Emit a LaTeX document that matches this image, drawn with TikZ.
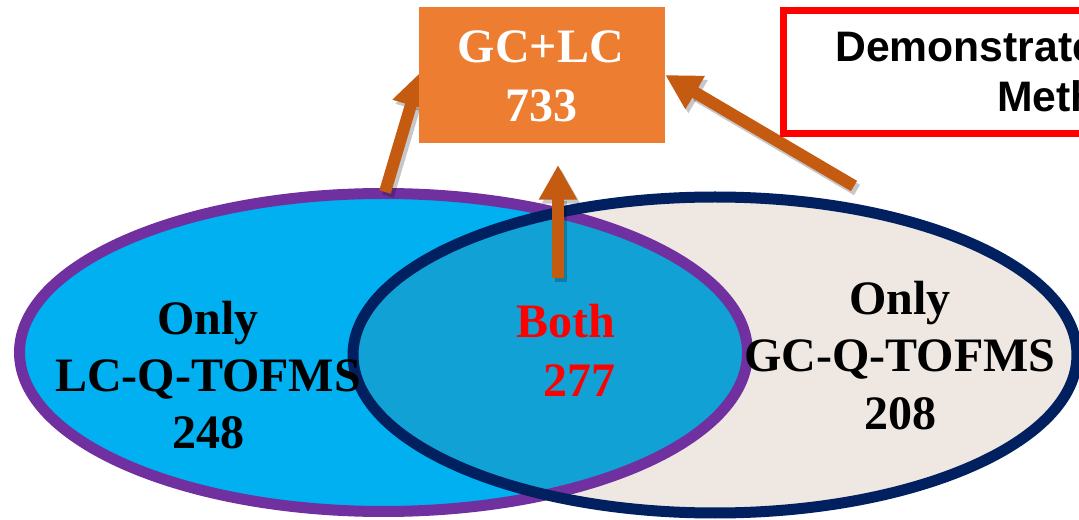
\documentclass[tikz,border=0pt]{standalone}
\usepackage{fontspec}
\setmainfont{Liberation Serif}
\setsansfont{Liberation Sans}
\usetikzlibrary{arrows.meta,calc}
\definecolor{lcfill}{HTML}{00B0F0}
\definecolor{lcedge}{HTML}{7030A0}
\definecolor{gcfill}{HTML}{EFE7E1}
\definecolor{gcedge}{HTML}{002060}
\definecolor{bothfill}{HTML}{12A1D5}
\definecolor{boxor}{HTML}{ED7D31}
\definecolor{arrcol}{HTML}{C55A11}
\definecolor{notered}{HTML}{FF0000}
\pgfdeclarelayer{bg}
\pgfdeclarelayer{mid}
\pgfsetlayers{bg,mid,main}
\begin{document}
\begin{tikzpicture}[x=0.75pt,y=-0.75pt,
  lbl/.style={font=\fontsize{36}{44}\selectfont\bfseries, inner sep=0pt, anchor=base},
  notetext/.style={font=\sffamily\fontsize{32}{38}\selectfont\bfseries, inner sep=0pt, anchor=base west},
  bigarrow/.style={draw=arrcol, line width=9pt, -{Triangle[width=27pt,length=26pt]}},
  arrowshadow/.style={draw=black, opacity=0.22, line width=9pt, -{Triangle[width=27pt,length=26pt]}},
  edge/.style={line width=8.25pt},
]
\useasboundingbox (0,0) rectangle (1079,520);
\clip (0,0) rectangle (1079,520);

% boxes (main layer)
\node[fill=boxor, minimum width=184.5pt, minimum height=102pt, inner sep=0pt] (sum) at (542,75) {};
\node[lbl, text=white] (sum1) at (541,63) {GC+LC};
\node[lbl, text=white] (sum2) at (541,122) {733};

\node[draw=notered, line width=5.25pt, minimum width=320pt, minimum height=92.25pt, anchor=north west, inner sep=0pt] (demo) at (780,7) {};
\node[notetext] (demo1) at (835,62) {Demonstrate};
\node[notetext] (demo2) at (997,112) {Meth};

% Venn ellipses
\begin{pgfonlayer}{bg}
\fill[gcfill] (715,355) ellipse [x radius=362, y radius=158];
\fill[lcfill] (383.5,352.5) ellipse [x radius=364, y radius=159];
\begin{scope}
\clip (715,355) ellipse [x radius=362, y radius=158];
\fill[bothfill] (383.5,352.5) ellipse [x radius=364, y radius=159];
\end{scope}
\draw[lcedge, edge] (383.5,352.5) ellipse [x radius=364, y radius=159];
\draw[gcedge, edge] (715,355) ellipse [x radius=362, y radius=158];
\coordinate (lctop) at (385,192);
\coordinate (bothtail) at (558,278);
\coordinate (bothtip) at (558,165);
\coordinate (gctail) at (854,186);
\end{pgfonlayer}

% arrows
\begin{pgfonlayer}{mid}
\draw[arrowshadow] ($(lctop)+(3,4)$) -- ($(sum.west)+(5,1)$);
\draw[arrowshadow] ($(bothtail)+(3,4)$) -- ($(bothtip)+(3,4)$);
\draw[arrowshadow] ($(gctail)+(3,4)$) -- ($(sum.east)+(3,4)$);
\draw[bigarrow] (lctop) -- ($(sum.west)+(2,-3)$);
\draw[bigarrow] (bothtail) -- (bothtip);
\draw[bigarrow] (gctail) -- (sum.east);
\end{pgfonlayer}

% labels
\node[lbl] (lc1) at (208,335) {Only};
\node[lbl] (lc2) at (208,392) {LC-Q-TOFMS};
\node[lbl] (lc3) at (208,449) {248};
\node[lbl] (gc1) at (900,315) {Only};
\node[lbl] (gc2) at (900,372) {GC-Q-TOFMS};
\node[lbl] (gc3) at (900,430) {208};
\node[lbl, text=notered] (both1) at (566,338) {Both};
\node[lbl, text=notered] (both2) at (579,397) {277};
\end{tikzpicture}
\end{document}
